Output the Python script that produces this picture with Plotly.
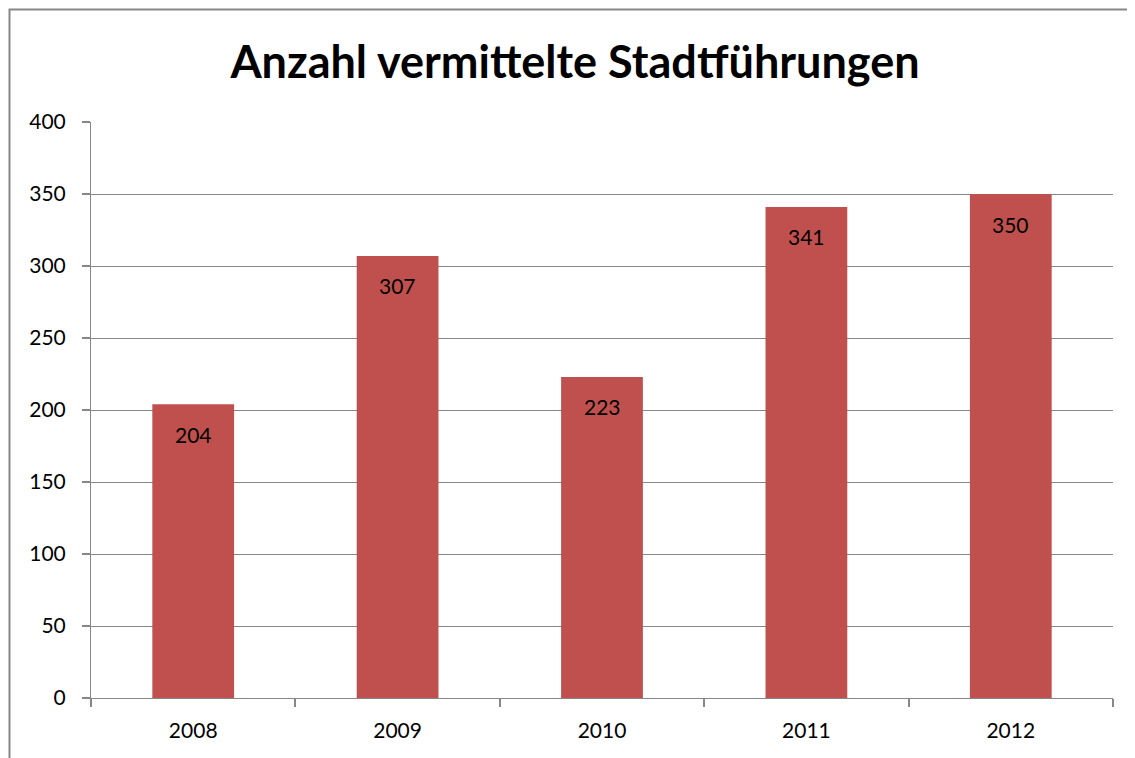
import plotly.graph_objects as go

years = ["2008", "2009", "2010", "2011", "2012"]
counts = [204, 307, 223, 341, 350]
y_ticks = [0, 50, 100, 150, 200, 250, 300, 350, 400]

BAR_COLOR = "#C0504D"
GRID_COLOR = "#878787"
FONT = "Lato, 'Open Sans', sans-serif"

# plot area in figure pixels (page has an 8px body margin)
L, T, W, H = 83, 114, 1022, 576

fig = go.Figure()
fig.add_trace(
    go.Bar(
        x=years,
        y=counts,
        marker_color=BAR_COLOR,
        marker_line_width=0,
        hoverinfo="skip",
    )
)

# value labels, just below the top of each bar (x = category index)
for i, c in enumerate(counts):
    fig.add_annotation(
        x=i, y=c,
        text=str(c),
        showarrow=False,
        yanchor="middle",
        yshift=-30,
        font=dict(family=FONT, size=21, color="black"),
    )

# outer chart frame (runs past the right and bottom edges)
fig.add_shape(
    type="rect",
    xref="paper", yref="paper",
    x0=(1.5 - L) / W, x1=1.3,
    y0=-0.5, y1=(T + H - 1.5) / H,
    line=dict(color=GRID_COLOR, width=2),
    fillcolor="rgba(0,0,0,0)",
    layer="below",
)

fig.update_layout(
    width=1135,
    height=758,
    margin=dict(l=L, r=1135 - L - W, t=T, b=758 - T - H, autoexpand=False),
    paper_bgcolor="white",
    plot_bgcolor="white",
    showlegend=False,
    bargap=0.6,
    title=dict(
        text="<b>Anzahl vermittelte Stadtführungen</b>",
        x=(575 - 8 - L) / W, xref="paper", xanchor="center",
        y=1 - 54 / 758, yanchor="middle",
        font=dict(family=FONT, size=45, color="black"),
    ),
    xaxis=dict(
        type="category",
        range=[-0.5, len(years) - 0.5],
        showline=True,
        linecolor=GRID_COLOR,
        linewidth=1,
        ticks="outside",
        tickson="boundaries",
        ticklen=8,
        tickwidth=1.5,
        tickcolor=GRID_COLOR,
        tickangle=0,
        ticklabelstandoff=14,
        tickfont=dict(family=FONT, size=21, color="black"),
        showgrid=False,
        fixedrange=True,
    ),
    yaxis=dict(
        range=[0, 400],
        tickvals=y_ticks,
        showline=True,
        linecolor=GRID_COLOR,
        linewidth=1,
        ticks="outside",
        ticklen=8,
        tickwidth=1.5,
        tickcolor=GRID_COLOR,
        ticklabelstandoff=12,
        tickfont=dict(family=FONT, size=21, color="black"),
        showgrid=True,
        gridcolor=GRID_COLOR,
        gridwidth=1,
        zeroline=False,
        fixedrange=True,
    ),
)

fig.write_html("out.html")
